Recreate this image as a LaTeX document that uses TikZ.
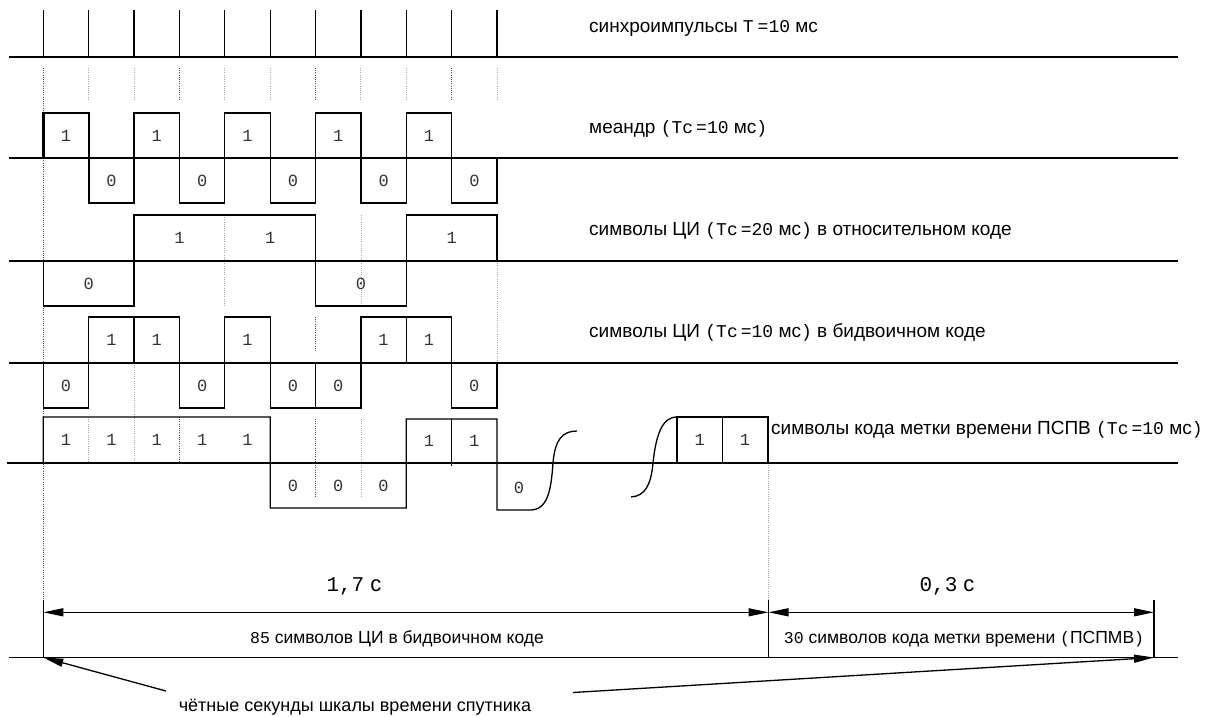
\documentclass[tikz,border=0pt]{standalone}
\usepackage{fontspec}
\setmainfont{Liberation Sans}
\newfontfamily\monofont{Liberation Mono}
\usetikzlibrary{arrows.meta}
\newcommand{\mn}[1]{{\monofont\fontsize{18}{20}\selectfont #1}}
\newcommand{\mns}[1]{{\monofont\fontsize{16.5}{18}\selectfont #1}}
\newcommand{\mnb}[1]{{\monofont\fontsize{21}{22}\selectfont #1}}
\newcommand{\tcx}[1]{\mn{(Тс}\hspace{3pt}\mn{=#1} мс\mn{)}}
\begin{document}
\begin{tikzpicture}[x=1pt,y=-1pt,
  wave/.style={line width=1.3pt, line join=miter},
  boldw/.style={line width=2.4pt},
  axis/.style={line width=1.4pt},
  gridd/.style={line width=0.8pt, dash pattern=on 1pt off 1.2pt, black!70},
  gridl/.style={line width=0.8pt, dash pattern=on 1pt off 1.2pt, black!35},
  lab/.style={anchor=base west, inner sep=0pt, font=\fontsize{19}{21}\selectfont},
  blab/.style={anchor=base, inner sep=0pt, font=\fontsize{17.5}{19}\selectfont},
  dig/.style={inner sep=0pt, font=\monofont\fontsize{17}{18}\selectfont, text=black!80},
  tip/.tip={Triangle[length=20pt,width=8pt]},
  dimline/.style={line width=1.3pt, tip-tip},
  pointer/.style={line width=1.3pt, -tip},
]
\useasboundingbox (0,0) rectangle (1221,716);
\fill[white] (0,0) rectangle (1221,716);

% ---------- guide lines (dotted) ----------
\draw[gridd] (43.3,68) -- (43.3,600);
\foreach \i in {1,...,10}{
  \draw[gridl] ({43.3+45.37*\i},68) -- ({43.3+45.37*\i},101);
}
\foreach \i in {3,6,9}{
  \draw[gridd] ({43.3+45.37*\i},68) -- ({43.3+45.37*\i},101);
}
% row 3
\draw[gridl] (224.8,215) -- (224.8,306);
\draw[gridl] (360.9,215) -- (360.9,306);
\draw[gridl] (497.0,261) -- (497.0,363);
% row 4
\draw[gridd] (315.5,317) -- (315.5,352);
\draw[gridl] (134.0,363) -- (134.0,463);
% row 5
\foreach \i in {1,3}{
  \draw[gridl] ({43.3+45.37*\i},417) -- ({43.3+45.37*\i},463);
}
\draw[gridd] (179.4,417) -- (179.4,463);
\draw[gridd] (315.5,419) -- (315.5,498);
\draw[gridl] (360.9,419) -- (360.9,498);
\draw[gridl] (768,463) -- (768,600);

% ---------- axes ----------
\draw[axis] (9,57) -- (1178,57);
\draw[axis] (9,158) -- (1178,158);
\draw[axis] (9,261) -- (1178,261);
\draw[axis] (9,363) -- (1178,363);
\draw[axis] (7,463) -- (1178,463);
\draw[axis] (9,657.5) -- (1178,657.5);

% ---------- row 1: sync pulses ----------
\foreach \i in {0,...,10}{
  \draw[wave] ({43.3+45.37*\i},10) -- ({43.3+45.37*\i},57);
}
\node[lab] (l1) at (589,32) {синхроимпульсы \mn{T}\hspace{4pt}\mn{=10} мс};

% ---------- row 2: meander ----------
\draw[boldw] (43.3,158) -- (43.3,113) -- (88.7,113) -- (88.7,203) -- (134.0,203) -- (134.0,158);
\draw[wave] (134.0,158) -- (134.0,113) -- (179.4,113) -- (179.4,203) -- (224.8,203)
  -- (224.8,113) -- (270.2,113) -- (270.2,203) -- (315.5,203) -- (315.5,113)
  -- (360.9,113) -- (360.9,203) -- (406.3,203) -- (406.3,113) -- (451.6,113)
  -- (451.6,203) -- (497.0,203) -- (497.0,158);
\foreach \i in {0,2,4,6,8}{
  \node[dig] (m1\i) at ({66+45.37*\i},135.5) {1};
  \node[dig] (m0\i) at ({111.4+45.37*\i},180.5) {0};
}
\node[lab] (l2) at (589,133) {меандр \tcx{10}};

% ---------- row 3: relative code ----------
\draw[wave] (43.3,261) -- (43.3,306) -- (134.0,306) -- (134.0,215) -- (315.5,215)
  -- (315.5,306) -- (406.3,306) -- (406.3,215) -- (497.0,215) -- (497.0,261);
\node[dig] (ra) at (88.7,283.5) {0};
\node[dig] (rb) at (179.4,238) {1};
\node[dig] (rc) at (270.2,238) {1};
\node[dig] (rd) at (360.9,283.5) {0};
\node[dig] (re) at (451.6,238) {1};
\node[lab] (l3) at (589,235) {символы ЦИ \tcx{20} в относительном коде};

% ---------- row 4: bi-binary code ----------
\draw[wave] (43.3,363) -- (43.3,408) -- (88.7,408) -- (88.7,317) -- (179.4,317)
  -- (179.4,408) -- (224.8,408) -- (224.8,317) -- (270.2,317) -- (270.2,408)
  -- (360.9,408) -- (360.9,317) -- (451.6,317) -- (451.6,408) -- (497.0,408) -- (497.0,363);
\draw[line width=2pt] (134.0,317) -- (134.0,363);
\draw[wave] (315.5,363) -- (315.5,408);
\draw[wave] (406.3,317) -- (406.3,363);
\foreach \v/\i in {0/0,1/1,1/2,0/3,1/4,0/5,0/6,1/7,1/8,0/9}{
  \pgfmathsetmacro{\yy}{\v==1 ? 340 : 385.5}
  \node[dig] (b\i) at ({66+45.37*\i},\yy) {\v};
}
\node[lab] (l4) at (589,337) {символы ЦИ \tcx{10} в бидвоичном коде};

% ---------- row 5: time mark code ----------
\draw[wave] (43.3,463) -- (43.3,417) -- (270.2,417) -- (270.2,508) -- (406.3,508)
  -- (406.3,419) -- (497.0,419) -- (497.0,510) -- (530,510)
  .. controls (548,510) and (551,490) .. (553,463)
  .. controls (555,440) and (562,431) .. (577,431);
\draw[wave] (451.6,419) -- (451.6,466);
\draw[wave] (631,497) .. controls (645,496) and (651,485) .. (653,463)
  .. controls (656,435) and (662,417) .. (677,417);
\draw[line width=1.8pt] (677,417) rectangle (768,463);
\draw[line width=1.8pt] (722.5,417) -- (722.5,463);
\foreach \i in {0,...,4}{
  \node[dig] (t1\i) at ({66+45.37*\i},440) {1};
}
\foreach \i in {5,6,7}{
  \node[dig] (t0\i) at ({66+45.37*\i},485.5) {0};
}
\node[dig] (t18) at (429,441) {1};
\node[dig] (t19) at (474.3,441) {1};
\node[dig] (t0x) at (519,488) {0};
\node[dig] (tya) at (699.7,440) {1};
\node[dig] (tyb) at (745,440) {1};
\node[lab] (l5) at (771,434) {символы кода метки времени ПСПВ \tcx{10}};

% ---------- dimensions ----------
\coordinate (d0) at (43.3,612.3);
\coordinate (d1) at (768.5,612.3);
\coordinate (d2) at (1154,612.3);
\coordinate (g0) at (43.3,657.5);
\coordinate (g2) at (1154,657.5);
\draw[wave] (43.3,600) -- (g0);
\draw[wave] (768.5,600) -- (768.5,657.5);
\draw[wave] (1154,600) -- (g2);
\draw[dimline] (d0) -- (d1);
\draw[dimline] (d1) -- (d2);
\node[anchor=base, inner sep=0pt, font=\fontsize{22}{24}\selectfont] (s17) at (354,591) {\mnb{1,7} с};
\node[anchor=base, inner sep=0pt, font=\fontsize{22}{24}\selectfont] (s03) at (947,591) {\mnb{0,3} с};
\node[blab] (n85) at (397,643) {\mns{85} символов ЦИ в бидвоичном коде};
\node[blab] (n30) at (964,643) {\mns{30} символов кода метки времени \mns{(}ПСПМВ\mns{)}};

% ---------- pointer ----------
\node[anchor=base, inner sep=0pt, font=\fontsize{18}{20}\selectfont] (even) at (355,711) {чётные секунды шкалы времени спутника};
\coordinate (pa) at (166,691);
\coordinate (pb) at (573,692.5);
\draw[pointer] (pa) -- (g0);
\draw[pointer] (pb) -- (g2);
\end{tikzpicture}
\end{document}
